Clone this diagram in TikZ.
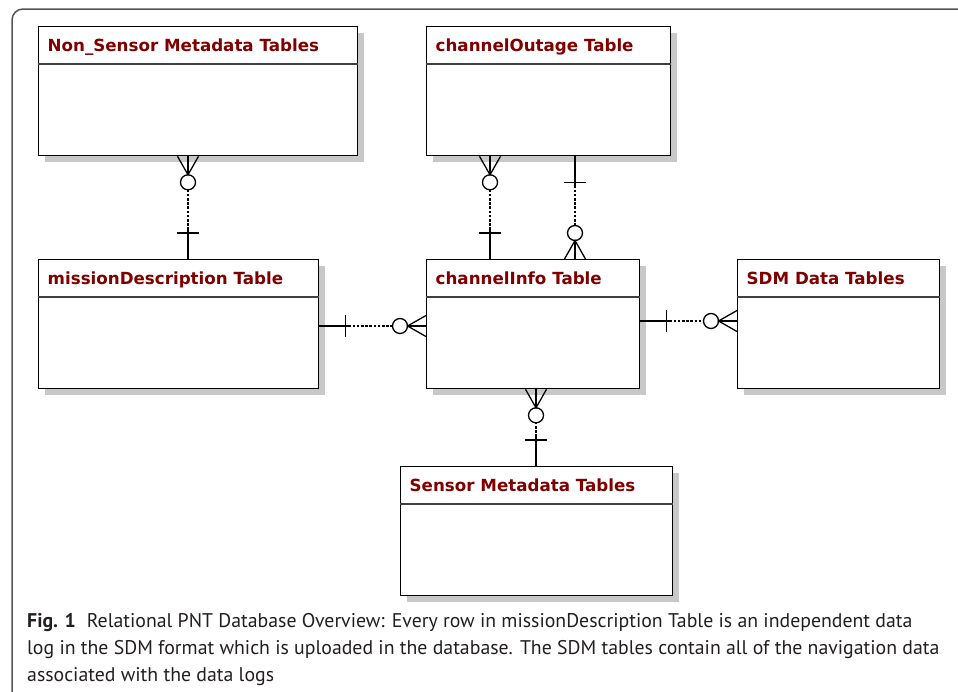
\documentclass[tikz,border=0pt]{standalone}
\usepackage{fontspec}
\usetikzlibrary{calc}
\newfontfamily\titlefont{DejaVu Sans}
\newfontfamily\capfont{PT Sans}
\definecolor{titlered}{RGB}{128,0,0}
\definecolor{shadowgray}{RGB}{200,200,200}
\definecolor{framegray}{RGB}{85,85,85}
\definecolor{captext}{RGB}{35,31,32}

\newcommand\dbtable[6]{%
  \node[tbl, minimum width=#4pt, minimum height=#5pt] (#1) at (#2,#3) {};
  \draw[hdr] ($(#1.north west)+(0,38)$) -- ($(#1.north east)+(0,38)$);
  \node[ttl] (#1-t) at ($(#1.north west)+(9.5,25)$) {#6};
}
\newcommand\relate[2]{%
  \draw[conn] (#1) -- ($(#1)!29pt!(#2)$);
  \draw[conn, dash pattern=on 2.6pt off 1.6pt] ($(#1)!29pt!(#2)$) -- ($(#2)!33.5pt!(#1)$);
  \draw[conn] ($(#1)!26pt!(#2)!11pt!90:(#2)$) -- ($(#1)!26pt!(#2)!11pt!-90:(#2)$);
  \draw[conn, fill=white] ($(#2)!26pt!(#1)$) circle (7.5pt);
  \draw[conn] ($(#2)!10.5pt!90:(#1)$) -- ($(#2)!18.5pt!(#1)$) -- ($(#2)!10.5pt!-90:(#1)$);
  \draw[conn] (#2) -- ($(#2)!18.5pt!(#1)$);
}

\begin{document}
\begin{tikzpicture}[x=1pt,y=-1pt,
  tbl/.style={draw=black, line width=1.3pt, fill=white, anchor=north west, inner sep=0pt,
    preaction={fill=shadowgray, transform canvas={shift={(6pt,-6pt)}}}},
  hdr/.style={draw=black!75, line width=1.3pt},
  ttl/.style={anchor=base west, inner sep=0pt, font=\titlefont\bfseries\fontsize{16.7}{18}\selectfont, text=titlered},
  conn/.style={line width=1.3pt, draw=black},
  captxt/.style={anchor=base west, inner sep=0pt, font=\capfont\fontsize{19.8}{23}\selectfont, text=captext},
  outerframe/.style={draw=framegray, line width=1.5pt, rounded corners=11pt}
]
\useasboundingbox (0,0) rectangle (958,691);
\clip (0,0) rectangle (958,691);
\fill[white] (0,0) rectangle (958,691);
\draw[outerframe] (975,9) -- (12,9) -- (12,710);

\dbtable{ns}{38}{26}{319}{129}{Non\_Sensor Metadata Tables}
\dbtable{chO}{426}{26}{244}{129}{channelOutage Table}
\dbtable{md}{38}{259}{280}{129}{missionDescription Table}
\dbtable{chI}{426}{259}{213}{129}{channelInfo Table}
\dbtable{sdm}{737}{259}{202}{129}{SDM Data Tables}
\dbtable{sen}{400}{466}{272}{129}{Sensor Metadata Tables}

\coordinate (r1o) at ($(md.north west)+(150,0)$);
\coordinate (r1m) at ($(ns.south west)+(150,0)$);
\coordinate (r2o) at ($(chI.north west)+(64,0)$);
\coordinate (r2m) at ($(chO.south west)+(64,0)$);
\coordinate (r3o) at ($(chO.south west)+(149,0)$);
\coordinate (r3m) at ($(chI.north west)+(149,0)$);
\coordinate (r4o) at ($(md.north east)+(0,67)$);
\coordinate (r4m) at ($(chI.north west)+(0,67)$);
\coordinate (r5o) at ($(chI.north east)+(0,62)$);
\coordinate (r5m) at ($(sdm.north west)+(0,62)$);
\coordinate (r6o) at ($(sen.north west)+(136,0)$);
\coordinate (r6m) at ($(chI.south west)+(110,0)$);

\relate{r1o}{r1m}
\relate{r2o}{r2m}
\relate{r3o}{r3m}
\relate{r4o}{r4m}
\relate{r5o}{r5m}
\relate{r6o}{r6m}

\node[captxt] (cap1) at (27,627) {\textbf{Fig. 1}\hspace{0.55em}Relational PNT Database Overview: Every row in missionDescription Table is an independent data};
\node[captxt] (cap2) at (27,654) {log in the SDM format which is uploaded in the database. The SDM tables contain all of the navigation data};
\node[captxt] (cap3) at (27,681) {associated with the data logs};
\end{tikzpicture}
\end{document}
